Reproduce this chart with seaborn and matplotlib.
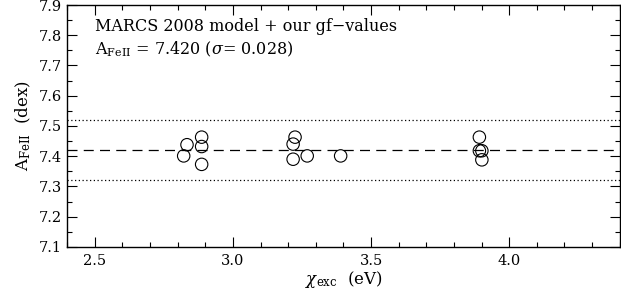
import matplotlib
matplotlib.use("Agg")
import matplotlib.pyplot as plt
import seaborn as sns
import pandas as pd
from matplotlib.ticker import MultipleLocator

chi_exc = [2.834, 2.822, 2.887, 2.887, 2.887,
           3.225, 3.218, 3.218, 3.269, 3.390,
           3.892, 3.892, 3.901, 3.901]
abund = [7.438, 7.401, 7.463, 7.432, 7.373,
         7.463, 7.440, 7.390, 7.401, 7.401,
         7.463, 7.418, 7.418, 7.388]
mean_val = 7.420
sigma_val = 0.028
band = 0.10

sns.set_theme(style="ticks")
plt.rcParams['font.family'] = ['DejaVu Serif']
plt.rcParams['mathtext.fontset'] = 'dejavuserif'
plt.rcParams['text.color'] = 'black'
plt.rcParams['axes.labelcolor'] = 'black'

fig = plt.figure(figsize=(6.21, 2.95), dpi=100)
ax = fig.add_axes([0.108, 0.163, 0.890, 0.820])

df = pd.DataFrame({"chi": chi_exc, "A": abund})
sns.scatterplot(data=df, x="chi", y="A", ax=ax, marker="o", s=80,
                facecolor="none", edgecolor="black", linewidth=0.8, zorder=3)

ax.axhline(mean_val, color="black", lw=0.9, ls=(0, (8, 5)))
ax.axhline(mean_val + band, color="black", lw=0.9, ls=(0, (1, 2)))
ax.axhline(mean_val - band, color="black", lw=0.9, ls=(0, (1, 2)))

ax.set_xlim(2.4, 4.4)
ax.set_ylim(7.1, 7.9)
ax.xaxis.set_major_locator(MultipleLocator(0.5))
ax.xaxis.set_minor_locator(MultipleLocator(0.1))
ax.yaxis.set_major_locator(MultipleLocator(0.1))
ax.yaxis.set_minor_locator(MultipleLocator(0.05))
ax.xaxis.set_major_formatter(plt.FuncFormatter(lambda v, p: f"{v:.1f}"))
ax.yaxis.set_major_formatter(plt.FuncFormatter(lambda v, p: f"{v:.1f}"))
ax.tick_params(which="both", direction="in", top=True, right=True,
               labelsize=10.5, colors="black", width=0.8)
ax.tick_params(which="major", length=7)
ax.tick_params(which="minor", length=3.5)
ax.tick_params(axis="x", pad=5)
for s in ax.spines.values():
    s.set_linewidth(1.0)
    s.set_color("black")
    s.set_visible(True)

ax.set_xlabel(r"$\chi_{\rm exc}$  (eV)", fontsize=12, labelpad=1)
ax.set_ylabel(r"A$_{\rm FeII}$  (dex)", fontsize=12)

ax.text(0.05, 0.91, "MARCS 2008 model + our gf\u2212values",
        transform=ax.transAxes, fontsize=11.5, va="center", ha="left")
ax.text(0.05, 0.815, r"A$_{\rm FeII}$ = " + f"{mean_val:.3f}" + r" ($\sigma$= " + f"{sigma_val:.3f})",
        transform=ax.transAxes, fontsize=11.5, va="center", ha="left")

fig.savefig("out.png", dpi=100)
